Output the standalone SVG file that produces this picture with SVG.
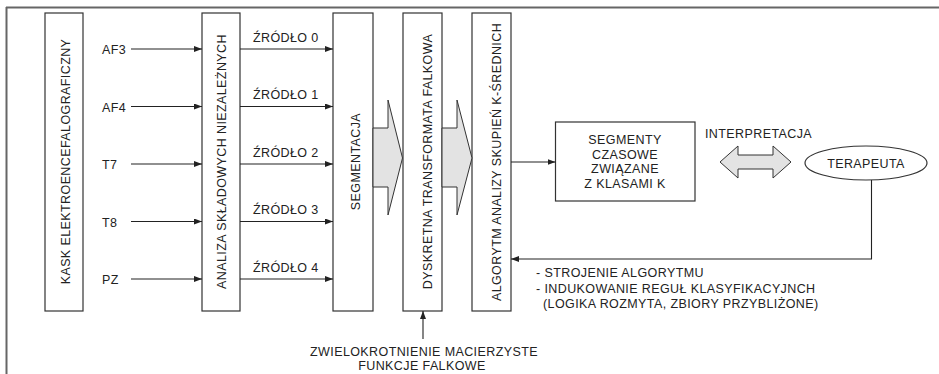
<svg xmlns="http://www.w3.org/2000/svg" width="939" height="374" viewBox="0 0 939 374">
<style>
text{font-family:"Liberation Sans",Arial,sans-serif;font-size:12.5px;fill:#222;letter-spacing:0.4px}
.box{fill:#fff;stroke:#333;stroke-width:1.2}
.ln{fill:none;stroke:#222;stroke-width:1.1}
.big{fill:#e3e3e3;stroke:#333;stroke-width:1}
.mid{text-anchor:middle}
</style>
<defs>
<marker id="ah" markerUnits="userSpaceOnUse" markerWidth="9" markerHeight="7" refX="8" refY="3" orient="auto">
<path d="M0,0 L8,3 L0,6 z" fill="#222"/>
</marker>
</defs>
<g id="frame">
<path d="M6,7.5 H939 M6.5,7 V374" fill="none" stroke="#666" stroke-width="2"/>
</g>
<g id="kask">
<rect class="box" x="45" y="13" width="38" height="298"/>
<text class="mid" transform="translate(69.5,161.5) rotate(-90)">KASK ELEKTROENCEFALOGRAFICZNY</text>
</g>
<g id="ica">
<rect class="box" x="202" y="13" width="38" height="298"/>
<text class="mid" transform="translate(226,161.5) rotate(-90)">ANALIZA SKŁADOWYCH NIEZALEŻNYCH</text>
</g>
<g id="seg">
<rect class="box" x="333" y="13" width="40" height="298"/>
<text class="mid" transform="translate(360,161.5) rotate(-90)">SEGMENTACJA</text>
</g>
<g id="dwt">
<rect class="box" x="403" y="13" width="39" height="298"/>
<text class="mid" transform="translate(431.5,161.5) rotate(-90)">DYSKRETNA TRANSFORMATA FALKOWA</text>
</g>
<g id="kmeans">
<rect class="box" x="472" y="13" width="39" height="298"/>
<text class="mid" transform="translate(500.5,162) rotate(-90)">ALGORYTM ANALIZY SKUPIEŃ K-ŚREDNICH</text>
</g>
<g id="segmenty">
<rect class="box" x="555.5" y="122" width="139.5" height="79"/>
<text class="mid" x="625" y="144">SEGMENTY</text>
<text class="mid" x="625" y="158.5">CZASOWE</text>
<text class="mid" x="625" y="173">ZWIĄZANE</text>
<text class="mid" x="625" y="187.5">Z KLASAMI K</text>
</g>
<g id="terapeuta">
<ellipse cx="866" cy="163" rx="61" ry="17" fill="#fff" stroke="#333" stroke-width="1.2"/>
<text class="mid" x="866" y="168">TERAPEUTA</text>
</g>
<g id="connectors">
<path class="ln" marker-end="url(#ah)" d="M131,49 H202"/>
<path class="ln" marker-end="url(#ah)" d="M131,106.5 H202"/>
<path class="ln" marker-end="url(#ah)" d="M131,164 H202"/>
<path class="ln" marker-end="url(#ah)" d="M131,221.5 H202"/>
<path class="ln" marker-end="url(#ah)" d="M131,279 H202"/>
<path class="ln" marker-end="url(#ah)" d="M240,49 H333"/>
<path class="ln" marker-end="url(#ah)" d="M240,106.5 H333"/>
<path class="ln" marker-end="url(#ah)" d="M240,164 H333"/>
<path class="ln" marker-end="url(#ah)" d="M240,221.5 H333"/>
<path class="ln" marker-end="url(#ah)" d="M240,279 H333"/>
<polygon class="big" points="373,128 388,128 388,100 402.5,158 388,215 388,187 373,187"/>
<polygon class="big" points="442,128 457,128 457,100 472,158 457,215 457,187 442,187"/>
<path class="ln" marker-end="url(#ah)" d="M511,162 H555.5"/>
<polygon class="big" points="720,162 738,146 738,155 773,155 773,146 791,162 773,178 773,169 738,169 738,178"/>
<path class="ln" marker-end="url(#ah)" d="M871.5,180 V259 H511"/>
<path class="ln" marker-end="url(#ah)" d="M423,339 V311"/>
</g>
<g id="labels">
<text x="102" y="54">AF3</text>
<text x="102" y="111.5">AF4</text>
<text x="102" y="169">T7</text>
<text x="102" y="226.5">T8</text>
<text x="102" y="284">PZ</text>
<text x="253" y="42">ŹRÓDŁO 0</text>
<text x="253" y="99">ŹRÓDŁO 1</text>
<text x="253" y="156.5">ŹRÓDŁO 2</text>
<text x="253" y="214">ŹRÓDŁO 3</text>
<text x="253" y="271.5">ŹRÓDŁO 4</text>
<text x="705" y="138">INTERPRETACJA</text>
<text x="536" y="277">- STROJENIE ALGORYTMU</text>
<text x="536" y="292.5">- INDUKOWANIE REGUŁ KLASYFIKACYJNCH</text>
<text x="543" y="307.5">(LOGIKA ROZMYTA, ZBIORY PRZYBLIŻONE)</text>
<text class="mid" x="424" y="356">ZWIELOKROTNIENIE MACIERZYSTE</text>
<text class="mid" x="422" y="370">FUNKCJE FALKOWE</text>
</g>
</svg>
